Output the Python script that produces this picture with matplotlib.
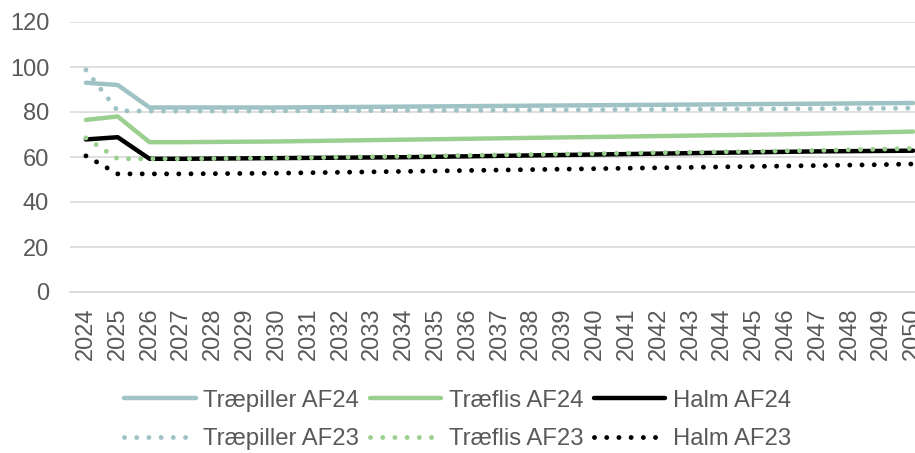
import matplotlib
matplotlib.use("Agg")
import matplotlib.pyplot as plt

# Data
years = [str(y) for y in range(2024, 2051)]

traepiller_af24 = [93.0, 92.0, 82.0, 82.0, 82.0, 82.0, 82.0, 82.1, 82.2, 82.3, 82.4, 82.5, 82.6, 82.7,
                   82.8, 82.9, 83.0, 83.1, 83.2, 83.3, 83.4, 83.5, 83.6, 83.7, 83.8, 83.9, 84.0]
traeflis_af24 = [76.5, 78.0, 66.6, 66.6, 66.7, 66.8, 66.9, 67.1, 67.3, 67.5, 67.7, 67.9, 68.1, 68.3,
                 68.5, 68.7, 68.9, 69.1, 69.3, 69.5, 69.7, 69.9, 70.1, 70.4, 70.7, 71.0, 71.3]
halm_af24 = [67.8, 68.8, 59.2, 59.2, 59.3, 59.4, 59.5, 59.6, 59.7, 59.8, 59.9, 60.1, 60.3, 60.5,
             60.7, 60.9, 61.1, 61.3, 61.5, 61.7, 61.9, 62.1, 62.3, 62.5, 62.6, 62.7, 62.8]
traepiller_af23 = [98.7, 80.5, 80.4, 80.4, 80.4, 80.4, 80.5, 80.5, 80.6, 80.6, 80.7, 80.7, 80.8, 80.8,
                   80.9, 80.9, 81.0, 81.1, 81.1, 81.2, 81.3, 81.3, 81.4, 81.5, 81.5, 81.6, 81.7]
traeflis_af23 = [68.5, 59.2, 59.2, 59.2, 59.3, 59.4, 59.5, 59.7, 59.9, 60.1, 60.3, 60.5, 60.7, 60.9,
                 61.1, 61.3, 61.5, 61.7, 61.9, 62.1, 62.3, 62.5, 62.7, 62.9, 63.2, 63.5, 63.8]
halm_af23 = [60.5, 52.5, 52.5, 52.5, 52.6, 52.7, 52.8, 53.0, 53.2, 53.4, 53.6, 53.8, 54.0, 54.2,
             54.4, 54.6, 54.8, 55.0, 55.2, 55.4, 55.6, 55.8, 56.0, 56.2, 56.4, 56.6, 56.9]

c_pill = "#9FC3C5"
c_flis = "#9BCF8F"
c_halm = "#000000"
grey = "#595959"

plt.rcParams['font.family'] = ['Liberation Sans', 'DejaVu Sans']

fig = plt.figure(figsize=(9.15, 4.53), dpi=100)
ax = fig.add_axes([70/915, 161/453, 859/915, 270/453])

x = list(range(len(years)))
lw = 3.2
dot = dict(linestyle=(0, (0.01, 2.5)), dash_capstyle='round', linewidth=3.5)
solid = dict(linewidth=lw, solid_capstyle='round', solid_joinstyle='round')

h1, = ax.plot(x, traepiller_af24, color=c_pill, label="Træpiller AF24", **solid)
h3, = ax.plot(x, traeflis_af24, color=c_flis, label="Træflis AF24", **solid)
h5, = ax.plot(x, halm_af24, color=c_halm, label="Halm AF24", **solid)
h2, = ax.plot(x, traepiller_af23, color=c_pill, label="Træpiller AF23", **dot)
h4, = ax.plot(x, traeflis_af23, color=c_flis, label="Træflis AF23", **dot)
h6, = ax.plot(x, halm_af23, color=c_halm, label="Halm AF23", **dot)

ax.set_xlim(-0.5, len(years) - 0.5)
ax.set_ylim(0, 120)
ax.set_yticks(range(0, 121, 20))
ax.set_xticks(x)
ax.set_xticklabels(years, rotation=90)
ax.grid(axis='y', color='#D9D9D9', linewidth=1.2)
ax.set_axisbelow(True)
for s in ['top', 'right', 'left']:
    ax.spines[s].set_visible(False)
ax.spines['bottom'].set_color('#D9D9D9')
ax.spines['bottom'].set_linewidth(1.2)
ax.tick_params(axis='both', length=0, labelsize=17, labelcolor=grey)
ax.tick_params(axis='y', pad=15)
ax.tick_params(axis='x', pad=11)

leg = fig.legend(handles=[h1, h2, h3, h4, h5, h6], ncol=3, loc='center',
                 bbox_to_anchor=(0.5, 33/453), frameon=False, fontsize=17.2,
                 handlelength=3.0, handletextpad=0.3, columnspacing=0.45,
                 labelspacing=0.7, borderpad=0)
for t in leg.get_texts():
    t.set_color(grey)

fig.savefig("out.png", dpi=100)
